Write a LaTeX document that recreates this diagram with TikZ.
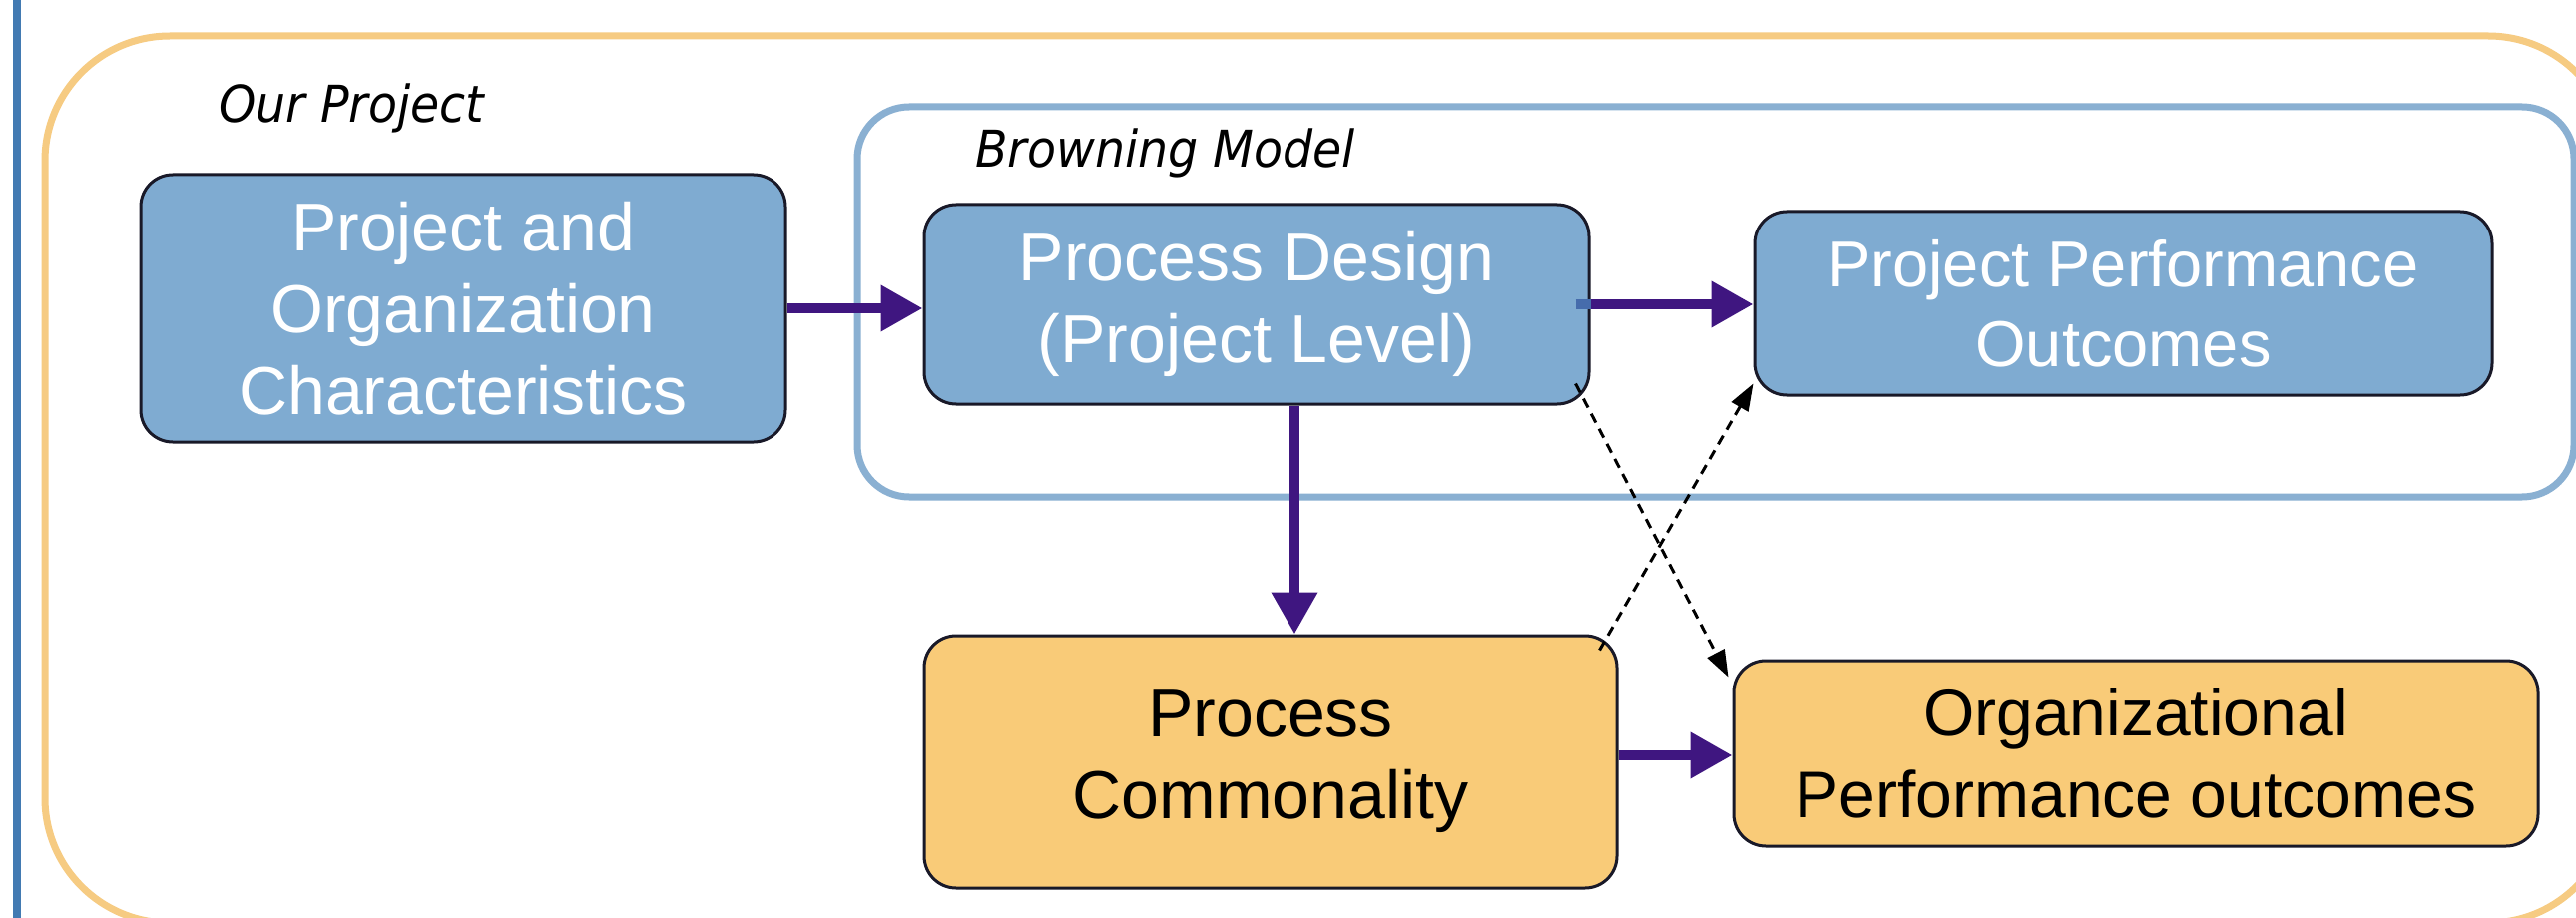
\documentclass[tikz,border=0pt]{standalone}
\usepackage{fontspec}
\setmainfont{Liberation Sans}
\newfontfamily\tagfont[FakeStretch=0.93]{DejaVu Sans}
\usetikzlibrary{arrows.meta,calc}

\definecolor{boxblue}{RGB}{127,171,209}
\definecolor{boxorange}{RGB}{249,203,120}
\definecolor{frameblue}{RGB}{138,176,210}
\definecolor{frameorange}{RGB}{246,203,130}
\definecolor{barblue}{RGB}{66,122,178}
\definecolor{flowpurple}{RGB}{63,22,128}
\definecolor{flowtail}{RGB}{70,108,172}
\definecolor{boxedge}{RGB}{25,25,40}

\begin{document}
\begin{tikzpicture}[x=1pt,y=-1pt,
  box/.style={draw=boxedge, line width=3pt, rounded corners=32pt,
    inner sep=0pt, align=center},
  bluebox/.style={box, fill=boxblue, text=white},
  orangebox/.style={box, fill=boxorange, text=black},
  bigtext/.style={font=\fontsize{68}{82}\selectfont},
  flow/.style={draw=flowpurple, line width=10pt,
    -{Triangle[length=42pt,width=44pt]}},
  link/.style={draw=black, line width=3pt, dash pattern=on 10pt off 7pt,
    -{Triangle[length=27pt,width=19pt]}},
  tag/.style={anchor=base west, inner sep=0pt,
    font=\tagfont\itshape\fontsize{51}{61}\selectfont},
  frame/.style={line width=7pt}
]
\useasboundingbox (0,0) rectangle (2581,920);
\clip (0,0) rectangle (2581,920);
\fill[white] (0,0) rectangle (2581,920);

% side bar
\fill[barblue] (13,0) rectangle (21,920);

% grouping frames
\draw[frame, frameorange, rounded corners=125pt] (45,36) rectangle (2618,925);
\draw[frame, frameblue, rounded corners=52pt] (859,107) rectangle (2579,498);

\node[tag] (ourlbl) at (219,123) {Our Project};
\node[tag] (brownlbl) at (977,168) {Browning Model};

% boxes
\node[bluebox, bigtext, minimum width=646pt, minimum height=268pt] (A) at (464,309)
  {Project and\\Organization\\Characteristics};
\node[bluebox, bigtext, minimum width=666pt, minimum height=200pt] (B) at (1259,305)
  {Process Design\\(Project Level)};
\node[bluebox, font=\fontsize{65}{80}\selectfont, minimum width=739pt, minimum height=184pt] (C) at (2127.5,304)
  {Project Performance\\Outcomes};
\node[orangebox, bigtext, minimum width=694pt, minimum height=253pt] (D) at (1273,763.5)
  {Process\\Commonality};
\node[orangebox, font=\fontsize{66}{82}\selectfont, minimum width=806pt, minimum height=186pt] (E) at (2140,755)
  {Organizational\\Performance outcomes};

% main flows
\draw[flow] (A.east) -- (A.east -| B.west);
\draw[flowtail, line width=10pt] ([xshift=-15pt]B.east) -- (B.east);
\draw[flow] (B.east) -- (B.east -| C.west);
\draw[flow] ([xshift=38pt]B.south) -- ([xshift=38pt]B.south |- D.north);
\draw[flow] ([yshift=-2pt]E.west -| D.east) -- ([yshift=-2pt]E.west);

% cross links
\coordinate (bout) at ([xshift=-15pt,yshift=22pt]B.south east);
\coordinate (ein)  at ([xshift=-4pt,yshift=-18pt]E.north west);
\coordinate (dout) at ([xshift=-19pt,yshift=-16pt]D.north east);
\coordinate (cin)  at ([yshift=13pt]C.south west);
\draw[link] (bout) -- (ein);
\draw[link] (dout) -- (cin);
\end{tikzpicture}
\end{document}
